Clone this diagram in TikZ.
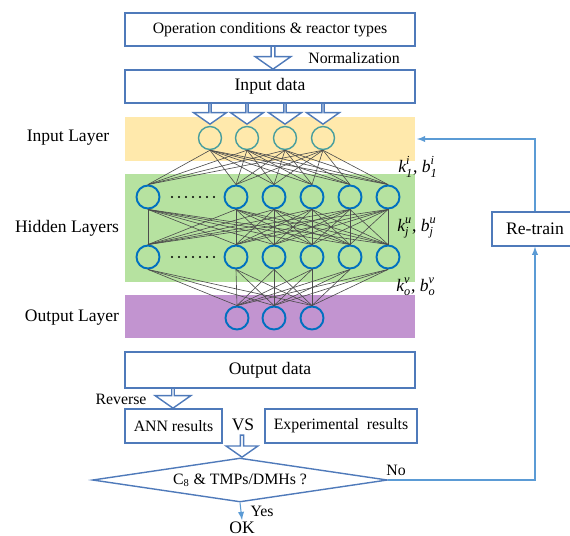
\documentclass[tikz,border=0pt]{standalone}
\usepackage{amsmath}
\usepackage{fontspec}
\setmainfont{Liberation Serif}
\usepackage{xcolor}
\usepackage{tikz}
\usetikzlibrary{shapes.arrows,shapes.geometric}

\definecolor{boxblue}{RGB}{79,122,186}
\definecolor{nodeblue}{RGB}{0,112,192}
\definecolor{nodeteal}{RGB}{72,158,158}
\definecolor{inband}{RGB}{255,233,172}
\definecolor{hidband}{RGB}{182,226,160}
\definecolor{outband}{RGB}{194,148,208}
\definecolor{loopblue}{RGB}{91,155,213}

\newcommand{\parlab}[3]{$\textit{#1}_{\textit{#2}}^{\textit{#3}}$}

\tikzset{
  databox/.style={draw=boxblue, line width=0.8pt, fill=white, inner sep=0pt},
  hollow/.style={single arrow, draw=boxblue, line width=0.8pt, fill=white, inner sep=0pt,
    shape border rotate=270, single arrow tip angle=110, anchor=tip},
  neuron/.style={circle, draw=nodeblue, line width=1.1pt, minimum size=0.46cm, inner sep=0pt},
  inneuron/.style={neuron, draw=nodeteal, line width=0.8pt},
  conn/.style={black!70, line width=0.35pt},
  feedback/.style={loopblue, line width=0.6pt, -latex},
}

\begin{document}
\begin{tikzpicture}[x=0.02cm, y=-0.02cm]
\useasboundingbox (0,0) rectangle (570,535);

% Coloured bands of the three layers
\fill[inband] (125,117) rectangle (415,161);
\fill[hidband] (125,174) rectangle (415,282);
\fill[outband] (125,295) rectangle (415,338);

% Layer names
\node (lin) at (68,138) {Input Layer};
\node (lhid) at (67,228) {Hidden Layers};
\node (lout) at (72,318) {Output Layer};

% Neurons
\foreach \x [count=\i] in {210,247,285,323}
  \node[inneuron] (in\i) at (\x,138) {};
\foreach \x [count=\i] in {148,236,274,312,350,388} {
  \node[neuron] (ha\i) at (\x,197) {};
  \node[neuron] (hb\i) at (\x,257) {};
}
\foreach \x [count=\i] in {237,274,312}
  \node[neuron] (out\i) at (\x,318) {};

% Dots for the left-out hidden neurons
\foreach \y in {197,257}
  \foreach \k in {0,...,6}
    \fill (172+7*\k,\y) circle (1.1);

% Weights between the layers
\foreach \i in {1,...,4}
  \foreach \j in {1,...,6}
    \draw[conn] (in\i.south) -- (ha\j.north);
\foreach \i in {1,...,6}
  \foreach \j in {1,...,6}
    \draw[conn] (ha\i.south) -- (hb\j.north);
\foreach \i in {1,...,6}
  \foreach \j in {1,...,3}
    \draw[conn] (hb\i.south) -- (out\j.north);

% Weight and bias labels
\node (w1) at (418,167) {\parlab{k}{1}{i}, \parlab{b}{1}{i}};
\node (w2) at (417,228) {\parlab{k}{j}{u}, \parlab{b}{j}{u}};
\node (w3) at (416,287) {\parlab{k}{o}{v}, \parlab{b}{o}{v}};

% Hollow arrows
\node[hollow, minimum width=0.72cm, minimum height=0.48cm, single arrow head extend=0.12cm] (nrm) at (273,70) {};
\foreach \x [count=\i] in {210,247,285,323}
  \node[hollow, minimum width=0.66cm, minimum height=0.44cm, single arrow head extend=0.19cm] (feed\i) at (\x,125) {};
\node[hollow, minimum width=0.72cm, minimum height=0.42cm, single arrow head extend=0.19cm] (rev) at (173,409) {};
\node[hollow, minimum width=0.64cm, minimum height=0.44cm, single arrow head extend=0.13cm] (cmp) at (242,458) {};

% Boxes
\node[databox, minimum width=5.8cm, minimum height=0.66cm, font=\small] (ops) at (270,29.5) {Operation conditions \& reactor types};
\node[databox, minimum width=5.8cm, minimum height=0.66cm] (ind) at (270,86.5) {Input data};
\node[databox, minimum width=5.8cm, minimum height=0.72cm] (outd) at (270,370) {Output data};
\node[databox, minimum width=1.94cm, minimum height=0.68cm, font=\small] (ann) at (173.5,426) {ANN results};
\node[databox, minimum width=3.04cm, minimum height=0.68cm, font=\small] (expr) at (341,426) {Experimental\ \ results};
\node[databox, minimum width=1.72cm, minimum height=0.68cm] (rt) at (535,229) {Re-train};

% Side texts
\node[font=\small] (nrmtxt) at (354,58) {Normalization};
\node[font=\small] (revtxt) at (121,399) {Reverse};
\node (vs) at (243,425) {VS};

% Decision
\node[diamond, draw=boxblue, line width=0.8pt, aspect=6.7, minimum width=5.9cm, minimum height=0.88cm, inner sep=0pt, font=\small] (dec) at (240,480) {C\textsubscript{8} \& TMPs/DMHs ?};
\node[inner sep=1pt] (ok) at (242,528) {OK};
\node[font=\small] (yes) at (262,511) {Yes};
\node[font=\small] (no) at (396,470) {No};

% Loops
\coordinate (fbin) at (417,139);
\draw[feedback] (dec.south) -- (ok.north);
\draw[feedback] (dec.east) -| (rt.south);
\draw[feedback] (rt.north) |- (fbin);
\end{tikzpicture}
\end{document}
